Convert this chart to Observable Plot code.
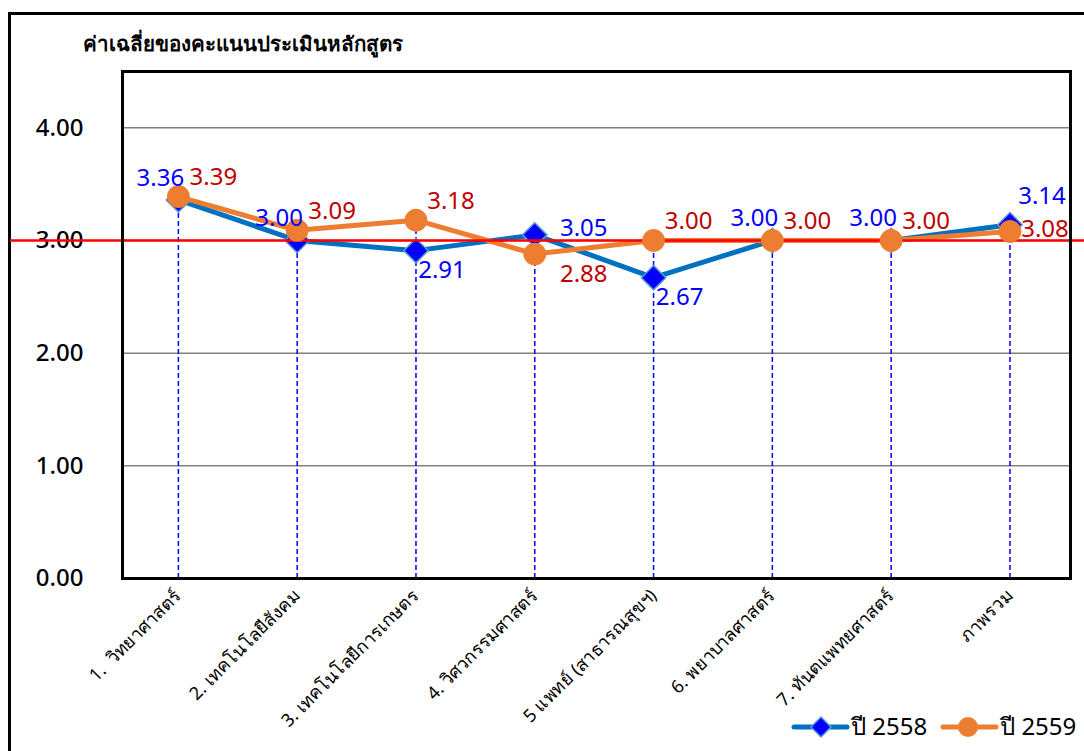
<!DOCTYPE html>
<html>
<head>
<meta charset="utf-8">
<script src="https://cdn.jsdelivr.net/npm/d3@7"></script>
<script src="https://cdn.jsdelivr.net/npm/@observablehq/plot@0.6"></script>
<style>
  html, body { margin: 0; padding: 0; background: #fff; overflow: hidden; }
  body { width: 1084px; height: 751px; position: relative; font-family: Tahoma, "Noto Sans", "DejaVu Sans", sans-serif; }
  #outer { position: absolute; left: 8px; top: 12px; width: 2000px; height: 2000px; border-left: 3px solid #000; border-top: 3px solid #000; box-sizing: border-box; }
  #title { position: absolute; left: 83px; top: 27px; font-size: 20.5px; font-weight: bold; color: #000; white-space: nowrap; }
  #chart { position: absolute; left: 0; top: 60px; }
  #legend { position: absolute; left: 790px; top: 707px; display: flex; align-items: center; font-size: 24px; color: #000; white-space: nowrap; }
  #legend .item { display: flex; align-items: center; margin-right: 12px; }
  #legend svg { display: block; margin-right: 1px; }
</style>
</head>
<body>
<div id="outer"></div>
<div id="title">ค่าเฉลี่ยของคะแนนประเมินหลักสูตร</div>
<div id="chart"></div>
<div id="legend"></div>
<script>
// ---- data ----
const categories = [
  "1.  วิทยาศาสตร์",
  "2. เทคโนโลยีสังคม",
  "3. เทคโนโลยีการเกษตร",
  "4. วิศวกรรมศาสตร์",
  "5 แพทย์ (สาธารณสุขฯ)",
  "6. พยาบาลศาสตร์",
  "7. ทันตแพทยศาสตร์",
  "ภาพรวม"
];
const seriesNames = ["ปี 2558", "ปี 2559"];
const values2558 = [3.36, 3.00, 2.91, 3.05, 2.67, 3.00, 3.00, 3.14];
const values2559 = [3.39, 3.09, 3.18, 2.88, 3.00, 3.00, 3.00, 3.08];
const yTicks = [0, 1, 2, 3, 4];
const targetValue = 3.00;
// label placement codes (which side of the point the value label sits)
const place2558 = ["nw", "nw", "se", "e", "se", "nw", "nw", "nee"];
const place2559 = ["ne", "ne", "ne", "es", "ne", "ne", "ne", "ee"];

// ---- build table ----
const offsets = {
  nw: [-18, -22], ne: [35, -19], nee: [32, -28], se: [26, 20], e: [49, -7], es: [49, 20], ee: [35, -2]
};
const rows = [];
categories.forEach((c, i) => {
  rows.push({cat: c, series: seriesNames[0], value: values2558[i], place: place2558[i]});
  rows.push({cat: c, series: seriesNames[1], value: values2559[i], place: place2559[i]});
});
const s58 = rows.filter(d => d.series === seriesNames[0]);
const s59 = rows.filter(d => d.series === seriesNames[1]);
const drops = categories.map((c, i) => ({cat: c, top: Math.max(values2558[i], values2559[i])}));

const fontFam = 'Tahoma, "Noto Sans", "DejaVu Sans", sans-serif';

function labelMarks(data, color) {
  const groups = d3.groups(data, d => d.place);
  return groups.map(([p, arr]) => Plot.text(arr, {
    x: "cat", y: "value", text: d => d.value.toFixed(2),
    dx: offsets[p][0], dy: offsets[p][1],
    fill: color, fontSize: 24, textAnchor: "middle", fontFamily: fontFam
  }));
}

const chart = Plot.plot({
  width: 1084,
  height: 691,
  marginTop: 11,
  marginBottom: 173,
  marginLeft: 122,
  marginRight: 14,
  style: {fontFamily: fontFam, background: "transparent", overflow: "visible"},
  x: {type: "point", domain: categories, padding: 0.49, align: 0.48, round: false},
  y: {domain: [0, 4.5]},
  marks: [
    Plot.ruleY(yTicks.filter(t => t > 0), {stroke: "#808080", strokeWidth: 1.5}),
    Plot.ruleX(drops, {x: "cat", y1: 0, y2: "top", stroke: "#0000FF", strokeWidth: 1.5, strokeDasharray: "5,3"}),
    Plot.axisY(yTicks, {tickSize: 0, dx: -30, tickFormat: d => d.toFixed(2), fontSize: 24, fontWeight: 500, fill: "#000"}),
    Plot.axisX({tickSize: 0, tickPadding: 14, tickRotate: -45, fontSize: 18, fill: "#000", label: null}),
    Plot.line(s58, {x: "cat", y: "value", stroke: "#0070C0", strokeWidth: 5}),
    Plot.dot(s58, {x: "cat", y: "value", symbol: "diamond2", r: 11, fill: "#0000FF", stroke: "#5B9BD5", strokeWidth: 1.5}),
    Plot.line(s59, {x: "cat", y: "value", stroke: "#ED7D31", strokeWidth: 5}),
    Plot.ruleY([targetValue], {stroke: "#FF0000", strokeWidth: 2.5, insetLeft: -112, insetRight: -20}),
    Plot.dot(s59, {x: "cat", y: "value", symbol: "circle", r: 11, fill: "#ED7D31", stroke: "#ED7D31", strokeWidth: 1}),
    ...labelMarks(s58, "#0000FF"),
    ...labelMarks(s59, "#C00000"),
    Plot.frame({stroke: "#000", strokeWidth: 3})
  ]
});
document.getElementById("chart").appendChild(chart);

// ---- legend ----
const legend = document.getElementById("legend");
const legendItems = [
  {name: seriesNames[0], line: "#0070C0", sym: "diamond"},
  {name: seriesNames[1], line: "#ED7D31", sym: "circle"}
];
legendItems.forEach(it => {
  const item = document.createElement("div");
  item.className = "item";
  const marker = it.sym === "diamond"
    ? `<path d="M31,8 L41,18 L31,28 L21,18 Z" fill="#0000FF" stroke="#5B9BD5" stroke-width="1.5"/>`
    : `<circle cx="29" cy="18" r="10" fill="#ED7D31"/>`;
  item.innerHTML = `<svg width="60" height="36"><line x1="4" y1="18" x2="57" y2="18" stroke="${it.line}" stroke-width="5" stroke-linecap="round"/>${marker}</svg><span>${it.name}</span>`;
  legend.appendChild(item);
});
</script>
</body>
</html>
